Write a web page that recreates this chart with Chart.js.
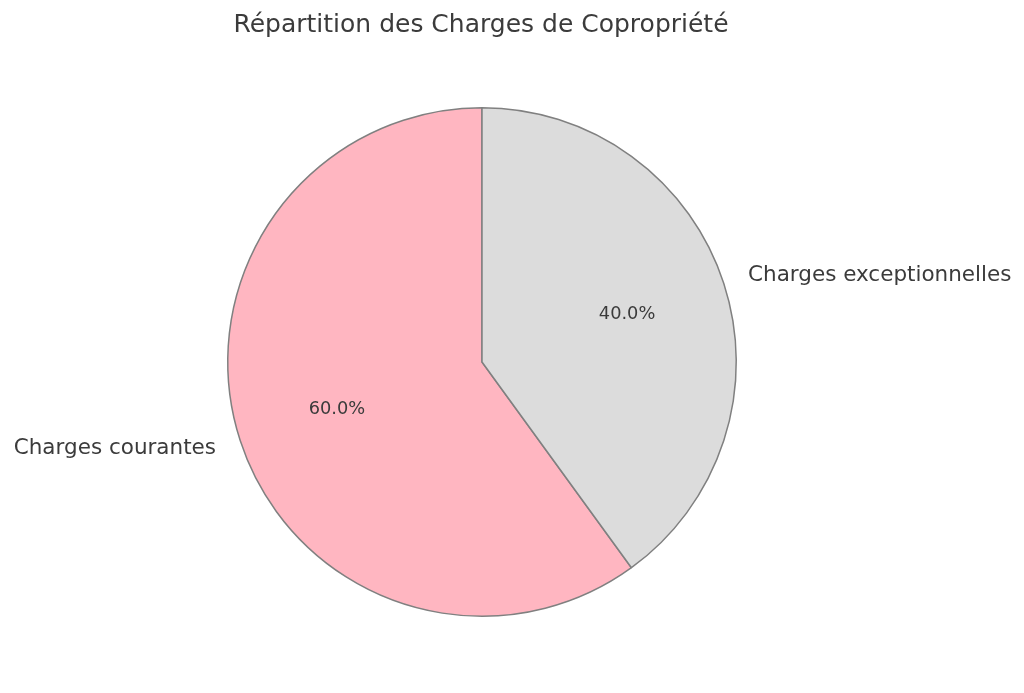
<!DOCTYPE html>
<html>
<head>
<meta charset="utf-8">
<script src="https://cdn.jsdelivr.net/npm/chart.js@4/dist/chart.umd.min.js"></script>
<style>
  html, body { margin: 0; padding: 0; background: #ffffff; }
  #wrap { width: 1024px; height: 693px; position: relative; }
</style>
</head>
<body>
<div id="wrap"><canvas id="graphique"></canvas></div>
<script>
const titre = "Répartition des Charges de Copropriété";
const categories = ["Charges courantes", "Charges exceptionnelles"];
const valeurs = [60, 40];
const couleurs = ["#FFB6C1", "#DCDCDC"];

// étiquettes à la manière de matplotlib : nom à 1.1 r, pourcentage à 0.6 r
const etiquettesPie = {
    id: "etiquettesPie",
    afterDraw(chart) {
        const ctx = chart.ctx;
        const arcs = chart.getDatasetMeta(0).data;
        const total = valeurs.reduce((a, b) => a + b, 0);
        ctx.save();
        ctx.fillStyle = "#3b3b3b";
        ctx.textBaseline = "middle";

        ctx.font = "25px 'DejaVu Sans'";
        ctx.textAlign = "center";
        ctx.fillText(titre, 481, 25);

        arcs.forEach((arc, i) => {
            const mid = (arc.startAngle + arc.endAngle) / 2;
            const r = arc.outerRadius;
            const cx = Math.cos(mid), cy = Math.sin(mid);

            ctx.font = "21.5px 'DejaVu Sans'";
            ctx.textAlign = cx >= 0 ? "left" : "right";
            ctx.fillText(categories[i], arc.x + cx * r * 1.1, arc.y + cy * r * 1.1);

            ctx.font = "17.8px 'DejaVu Sans'";
            ctx.textAlign = "center";
            const pct = (valeurs[i] / total * 100).toFixed(1) + "%";
            ctx.fillText(pct, arc.x + cx * r * 0.6, arc.y + cy * r * 0.6);
        });
        ctx.restore();
    }
};

const ctx = document.getElementById("graphique").getContext("2d");
new Chart(ctx, {
    type: "pie",
    data: {
        labels: categories,
        datasets: [{
            data: valeurs,
            backgroundColor: couleurs,
            borderColor: "#808080",
            borderWidth: 1.5,
        }],
    },
    options: {
        responsive: true,
        maintainAspectRatio: false,
        animation: false,
        rotation: 144,
        layout: { padding: { top: 107, bottom: 76, left: 227, right: 287 } },
        plugins: {
            legend: { display: false },
            tooltip: { enabled: false },
            title: { display: false },
        },
    },
    plugins: [etiquettesPie],
});
</script>
</body>
</html>
